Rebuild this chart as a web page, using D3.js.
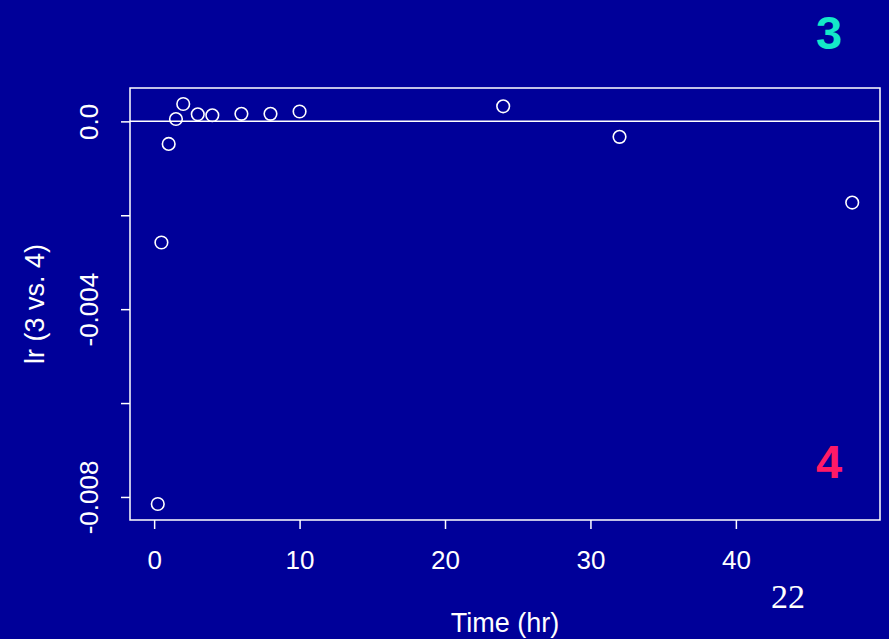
<!DOCTYPE html>
<html>
<head>
<meta charset="utf-8">
<script src="https://cdn.jsdelivr.net/npm/d3@7"></script>
<style>
  html, body { margin: 0; padding: 0; background: #000099; }
  svg { display: block; }
  text { font-family: Arial, "Liberation Sans", sans-serif; fill: #fff; }
</style>
</head>
<body>
<svg id="chart" width="889" height="639"></svg>
<script>
// time points (hr) and lr (3 vs. 4) values
const times = [0.25, 0.5, 1, 1.5, 2, 3, 4, 6, 8, 10, 24, 32, 48];
const lrValues = [-0.00815, -0.00258, -0.00048, 0.00005, 0.00037, 0.00015, 0.00013,
                  0.00016, 0.00016, 0.00021, 0.00032, -0.00033, -0.00173];
const xTicks = [0, 10, 20, 30, 40];
const yTicks = [0, -0.002, -0.004, -0.006, -0.008];
const yTickLabels = ["0.0", "", "-0.004", "", "-0.008"];

const width = 889, height = 639;
const box = { left: 130, right: 880, top: 88, bottom: 520 };

const svg = d3.select('#chart');

// R-style 4% padding on data range
const pad = (lo, hi) => { const r = hi - lo; return [lo - 0.04 * r, hi + 0.04 * r]; };

const x = d3.scaleLinear()
    .domain(pad(d3.min(times), d3.max(times)))
    .range([box.left, box.right]);

const y = d3.scaleLinear()
    .domain(pad(d3.min(lrValues), d3.max(lrValues)))
    .range([box.bottom, box.top]);

// plot frame
svg.append('rect')
    .attr('x', box.left).attr('y', box.top)
    .attr('width', box.right - box.left).attr('height', box.bottom - box.top)
    .attr('fill', 'none').attr('stroke', '#fff').attr('stroke-width', 1.5);

// x axis
const xAxis = svg.append('g')
    .attr('transform', `translate(0,${box.bottom})`)
    .call(d3.axisBottom(x).tickValues(xTicks).tickSize(9).tickPadding(22).tickFormat(d3.format('d')));
xAxis.select('.domain').remove();
xAxis.selectAll('line').attr('stroke', '#fff').attr('stroke-width', 1.5);
xAxis.selectAll('text').attr('fill', '#fff').style('font-size', '26px')
    .attr('font-family', 'Arial, "Liberation Sans", sans-serif');

// y axis, labels rotated as in R
const yAxis = svg.append('g')
    .attr('transform', `translate(${box.left},0)`)
    .call(d3.axisLeft(y).tickValues(yTicks).tickSize(9)
        .tickFormat((d, i) => yTickLabels[i]));
yAxis.select('.domain').remove();
yAxis.selectAll('line').attr('stroke', '#fff').attr('stroke-width', 1.5);
yAxis.selectAll('text')
    .attr('fill', '#fff').style('font-size', '26px')
    .attr('font-family', 'Arial, "Liberation Sans", sans-serif')
    .attr('x', null).attr('dy', null)
    .attr('text-anchor', 'middle')
    .attr('transform', 'translate(-32,0) rotate(-90)');

// zero reference line
svg.append('line')
    .attr('x1', box.left).attr('x2', box.right)
    .attr('y1', y(0)).attr('y2', y(0))
    .attr('stroke', '#fff').attr('stroke-width', 1.5);

// points
svg.append('g').selectAll('circle')
    .data(times.map((t, i) => ({ t, v: lrValues[i] })))
    .join('circle')
    .attr('cx', d => x(d.t))
    .attr('cy', d => y(d.v))
    .attr('r', 6.3)
    .attr('fill', 'none')
    .attr('stroke', '#fff')
    .attr('stroke-width', 1.6);

// axis titles
svg.append('text')
    .attr('x', (box.left + box.right) / 2).attr('y', 632)
    .attr('text-anchor', 'middle').style('font-size', '27px')
    .text('Time (hr)');

svg.append('text')
    .attr('transform', `translate(44,${(box.top + box.bottom) / 2}) rotate(-90)`)
    .attr('text-anchor', 'middle').style('font-size', '27px')
    .text('lr (3 vs. 4)');

// slide annotations
svg.append('text')
    .attr('x', 829).attr('y', 48.5)
    .attr('text-anchor', 'middle')
    .style('font-size', '47px').style('font-weight', 'bold')
    .style('fill', '#14E8C8')
    .text('3');

svg.append('text')
    .attr('x', 829).attr('y', 478)
    .attr('text-anchor', 'middle')
    .style('font-size', '47px').style('font-weight', 'bold')
    .style('fill', '#FF1A66')
    .text('4');

svg.append('text')
    .attr('x', 788).attr('y', 607.5)
    .attr('text-anchor', 'middle')
    .style('font-family', '"Liberation Serif", "Times New Roman", serif')
    .style('font-size', '34px')
    .text('22');
</script>
</body>
</html>
